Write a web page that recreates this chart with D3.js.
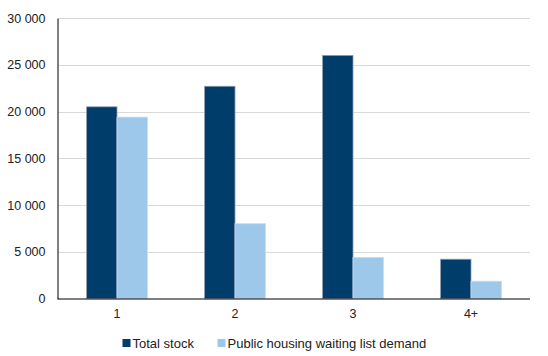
<!DOCTYPE html>
<html>
<head>
<meta charset="utf-8">
<script src="https://cdn.jsdelivr.net/npm/d3@7"></script>
<style>
  body { margin: 0; background: #fff; }
  svg { display: block; font-family: "Liberation Sans", Arial, sans-serif; }
</style>
</head>
<body>
<svg id="chart" width="548" height="356"></svg>
<script>
const categories = ["1", "2", "3", "4+"];
const seriesNames = ["Total stock", "Public housing waiting list demand"];
const totalStock = [20500, 22700, 26000, 4200];
const waitingList = [19400, 8000, 4400, 1850];
const yTicks = [0, 5000, 10000, 15000, 20000, 25000, 30000];
const colors = ["#003D6A", "#9DC8E9"];

const svg = d3.select("#chart");
const margin = { left: 58, right: 18, top: 18, bottom: 57.5 };
const W = 548, H = 356;

const x = d3.scaleBand().domain(categories).range([margin.left, W - margin.right]).paddingInner(0.485).paddingOuter(0.2425);
const xSub = d3.scaleBand().domain(seriesNames).range([0, x.bandwidth()]);
const y = d3.scaleLinear().domain([0, 30000]).range([H - margin.bottom, margin.top]);

const fmt = v => d3.format(",")(v).replace(/,/g, " ");

// gridlines
svg.append("g").selectAll("line").data(yTicks.filter(d => d > 0)).join("line")
  .attr("x1", margin.left).attr("x2", W - margin.right)
  .attr("y1", d => Math.round(y(d)) + 0.5).attr("y2", d => Math.round(y(d)) + 0.5)
  .attr("stroke", "#D9D9D9").attr("stroke-width", 1);

// y axis
const yAxis = svg.append("g").attr("transform", `translate(${margin.left - 0.5},0)`)
  .call(d3.axisLeft(y).tickValues(yTicks).tickFormat(fmt).tickSize(0).tickPadding(12));
yAxis.select(".domain").attr("stroke", "#000");
yAxis.selectAll("text").attr("font-size", 12.5).attr("fill", "#222").attr("font-family", "Liberation Sans, Arial, sans-serif");

// bars
const data = categories.map((c, i) => ({ c, vals: [totalStock[i], waitingList[i]] }));
const groups = svg.append("g").selectAll("g").data(data).join("g")
  .attr("transform", d => `translate(${x(d.c)},0)`);
groups.selectAll("rect").data(d => d.vals.map((v, j) => ({ v, s: seriesNames[j], j }))).join("rect")
  .attr("x", d => xSub(d.s))
  .attr("width", xSub.bandwidth())
  .attr("y", d => y(d.v))
  .attr("height", d => y(0) - y(d.v))
  .attr("fill", d => colors[d.j])
  .attr("stroke", d => d.j === 0 ? "#8E9AAE" : "#C5DDF0")
  .attr("stroke-width", 0.8);

// x axis
const xAxis = svg.append("g").attr("transform", `translate(0,${y(0) + 0.5})`)
  .call(d3.axisBottom(x).tickSize(0).tickPadding(10));
xAxis.select(".domain").attr("stroke", "#000").attr("d", `M${margin.left - 0.5},0H${W - margin.right}`);
xAxis.selectAll("text").attr("font-size", 12.5).attr("fill", "#222").attr("font-family", "Liberation Sans, Arial, sans-serif");

// legend
const legendX = [122.5, 217.5];
const legend = svg.append("g").selectAll("g").data(seriesNames).join("g")
  .attr("transform", (d, i) => `translate(${legendX[i]},339)`);
legend.append("rect").attr("width", 8).attr("height", 8).attr("fill", (d, i) => colors[i]);
legend.append("text").attr("x", 10).attr("y", 8.8).attr("font-size", 13).attr("fill", "#222")
  .text(d => d);
</script>
</body>
</html>
